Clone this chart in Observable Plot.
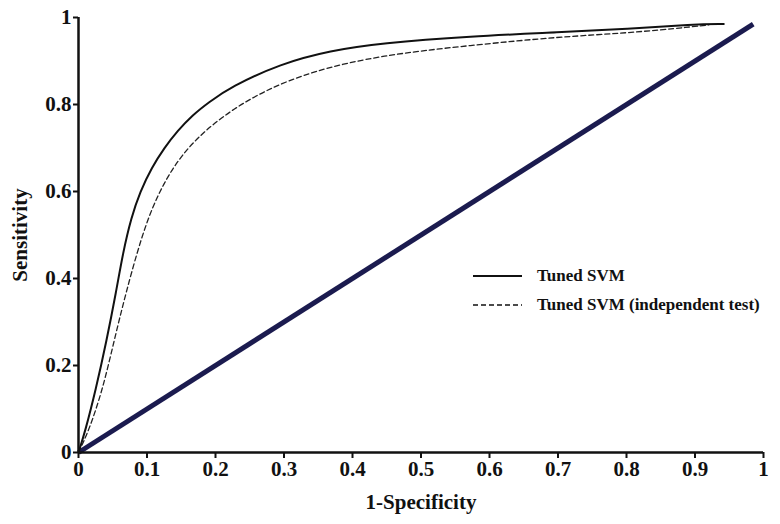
<!DOCTYPE html>
<html>
<head>
<meta charset="utf-8">
<script src="https://cdn.jsdelivr.net/npm/d3@7"></script>
<script src="https://cdn.jsdelivr.net/npm/@observablehq/plot@0.6"></script>
<style>
  html, body { margin: 0; padding: 0; background: #fff; }
  #wrap { position: relative; width: 780px; height: 524px; }
  #legend { position: absolute; left: 473px; top: 261px; font-family: "Liberation Serif", "Times New Roman", serif; font-weight: bold; font-size: 17px; color: #111; }
  .row { display: flex; align-items: center; height: 29px; }
  .row svg { margin-right: 15px; }
</style>
</head>
<body>
<div id="wrap"></div>
<script>
// Data
const xTicks = [0, 0.1, 0.2, 0.3, 0.4, 0.5, 0.6, 0.7, 0.8, 0.9, 1];
const yTicks = [0, 0.2, 0.4, 0.6, 0.8, 1];

const tunedFPR = [0, 0.01, 0.025, 0.041, 0.055, 0.065, 0.077, 0.09, 0.107, 0.125, 0.145, 0.166, 0.19, 0.222, 0.295, 0.368, 0.441, 0.572, 0.704, 0.801, 0.898, 0.942];
const tunedTPR = [0, 0.05, 0.143, 0.257, 0.37, 0.46, 0.54, 0.60, 0.655, 0.70, 0.74, 0.775, 0.805, 0.840, 0.894, 0.924, 0.941, 0.957, 0.966, 0.974, 0.984, 0.985];

const indepFPR = [0, 0.015, 0.035, 0.052, 0.068, 0.093, 0.117, 0.153, 0.207, 0.27, 0.344, 0.441, 0.572, 0.704, 0.801, 0.898, 0.92];
const indepTPR = [0, 0.05, 0.143, 0.257, 0.36, 0.503, 0.60, 0.694, 0.771, 0.832, 0.878, 0.913, 0.936, 0.956, 0.964, 0.979, 0.983];

const refX = [0, 0.985];
const refY = [0, 0.985];

const seriesNames = ["Tuned SVM", "Tuned SVM (independent test)"];

const tuned = tunedFPR.map((x, i) => ({x, y: tunedTPR[i]}));
const indep = indepFPR.map((x, i) => ({x, y: indepTPR[i]}));
const ref = refX.map((x, i) => ({x, y: refY[i]}));

const fmt = d => d3.format("~g")(d);

const chart = Plot.plot({
  width: 780,
  height: 524,
  marginLeft: 78,
  marginRight: 17,
  marginTop: 17,
  marginBottom: 72,
  style: {fontFamily: "'Liberation Serif', 'Times New Roman', serif", fontWeight: "bold", fontSize: "21px", color: "#111", background: "#fff"},
  x: {domain: [0, 1]},
  y: {domain: [0, 1]},
  marks: [
    Plot.line(ref, {x: "x", y: "y", stroke: "#1b1b4f", strokeWidth: 5, strokeLinecap: "butt"}),
    Plot.line(indep, {x: "x", y: "y", stroke: "#222", strokeWidth: 1.3, strokeDasharray: "5,3", curve: "basis"}),
    Plot.line(tuned, {x: "x", y: "y", stroke: "#111", strokeWidth: 2, curve: "basis"}),
    Plot.axisX({ticks: xTicks, tickFormat: fmt, tickSize: 6, tickPadding: 3, strokeWidth: 2, stroke: "#111",
      label: "1-Specificity", labelArrow: "none", labelAnchor: "center", labelOffset: 56, fontSize: 21}),
    Plot.axisY({ticks: yTicks, tickFormat: fmt, tickSize: 5, tickPadding: 2, strokeWidth: 2, stroke: "#111",
      label: "Sensitivity", labelArrow: "none", labelAnchor: "center", labelOffset: 66, fontSize: 21}),
    Plot.ruleY([0], {stroke: "#111", strokeWidth: 2.5}),
    Plot.ruleX([0], {stroke: "#111", strokeWidth: 2.5})
  ]
});

const wrap = document.getElementById("wrap");
wrap.appendChild(chart);

const legend = document.createElement("div");
legend.id = "legend";
legend.innerHTML = seriesNames.map((name, i) => `
  <div class="row">
    <svg width="49" height="4"><line x1="0" x2="49" y1="2" y2="2" stroke="#111" stroke-width="${i === 0 ? 2 : 1.5}" ${i === 1 ? 'stroke-dasharray="5,3"' : ''}/></svg>
    <span>${name}</span>
  </div>`).join("");
wrap.appendChild(legend);
</script>
</body>
</html>
